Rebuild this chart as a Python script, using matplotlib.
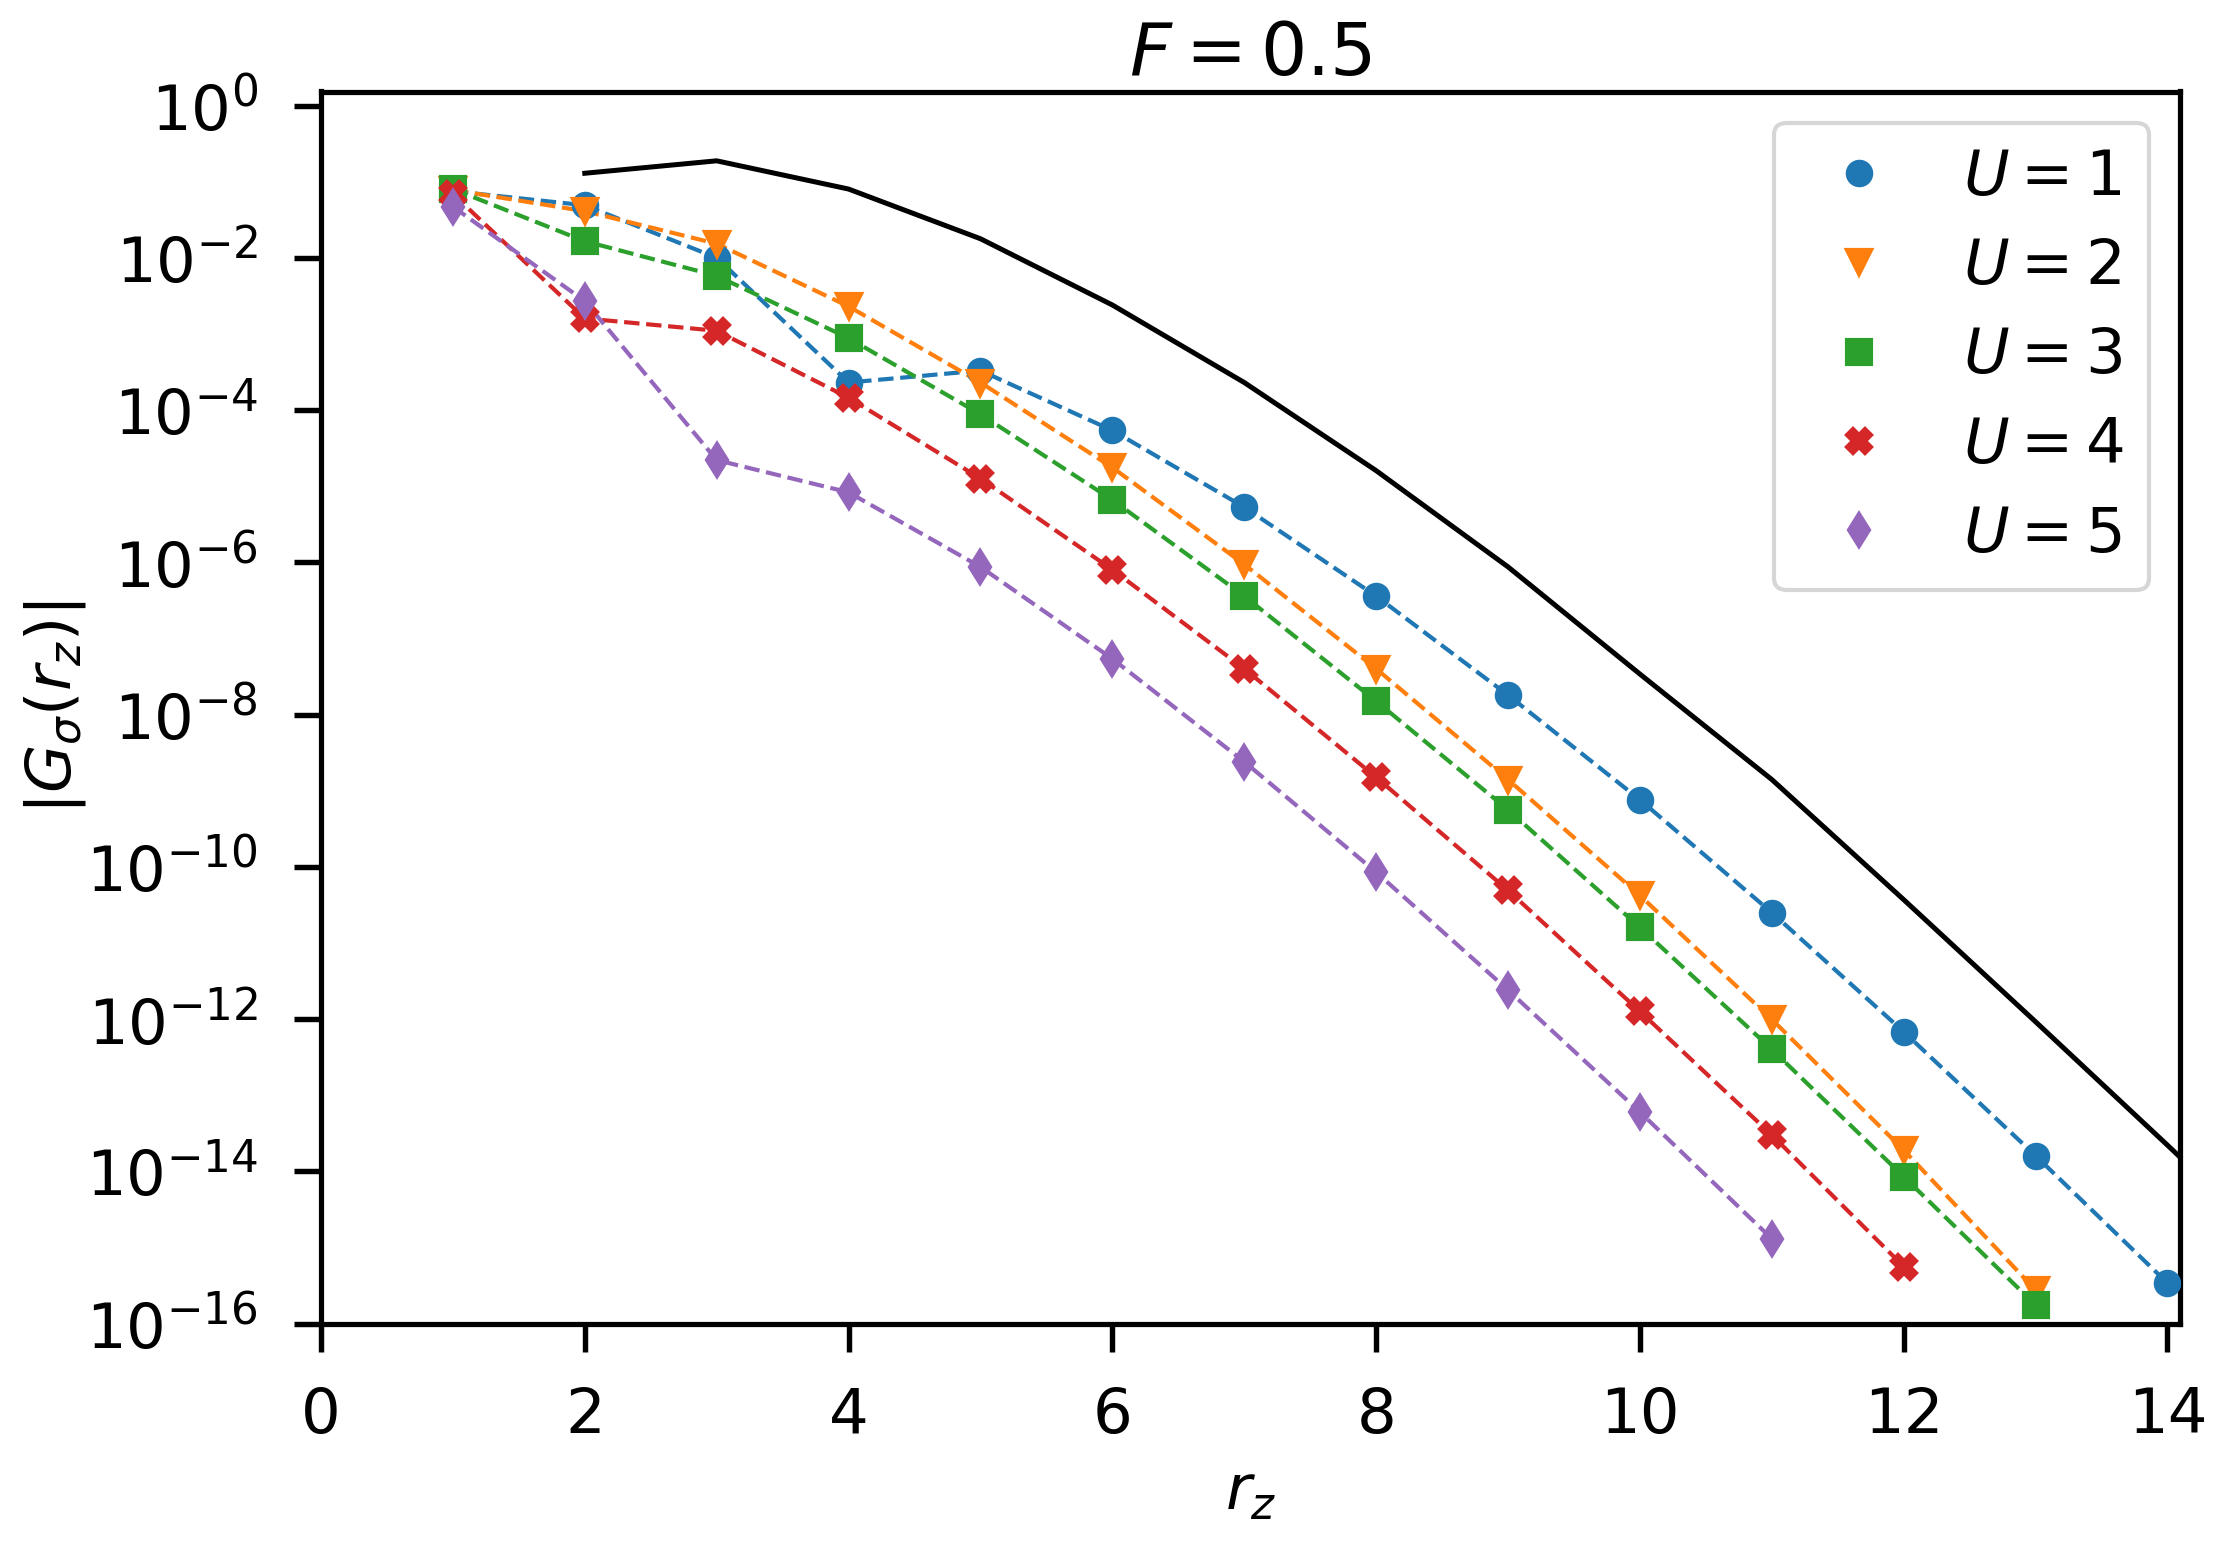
import matplotlib
matplotlib.use("Agg")
import matplotlib.pyplot as plt
from matplotlib.ticker import NullLocator

# ---- data ----
x_u1 = [1, 2, 3, 4, 5, 6, 7, 8, 9, 10, 11, 12, 13, 14]
g_u1 = [0.075, 0.049, 0.010, 2.3e-4, 3.3e-4, 5.4e-5, 5.3e-6, 3.6e-7, 1.8e-8,
        7.6e-10, 2.5e-11, 6.8e-13, 1.6e-14, 3.4e-16]

x_u2 = [1, 2, 3, 4, 5, 6, 7, 8, 9, 10, 11, 12, 13]
g_u2 = [0.078, 0.041, 0.0153, 2.3e-3, 2.3e-4, 1.76e-5, 9.4e-7, 4.0e-8, 1.4e-9,
        4.2e-11, 9.9e-13, 1.9e-14, 2.75e-16]

x_u3 = [1, 2, 3, 4, 5, 6, 7, 8, 9, 10, 11, 12, 13]
g_u3 = [0.080, 0.0165, 5.8e-3, 8.8e-4, 8.8e-5, 6.6e-6, 3.6e-7, 1.5e-8, 5.6e-10,
        1.6e-11, 4.0e-13, 8.5e-15, 1.75e-16]

x_u4 = [1, 2, 3, 4, 5, 6, 7, 8, 9, 10, 11, 12]
g_u4 = [0.069, 1.6e-3, 1.1e-3, 1.45e-4, 1.26e-5, 8.0e-7, 4.0e-8, 1.5e-9, 4.9e-11,
        1.26e-12, 3.0e-14, 5.6e-16]

x_u5 = [1, 2, 3, 4, 5, 6, 7, 8, 9, 10, 11]
g_u5 = [0.047, 2.7e-3, 2.2e-5, 8.3e-6, 8.7e-7, 5.4e-8, 2.4e-9, 8.5e-11, 2.4e-12,
        6e-14, 1.3e-15]

x_ref = [2, 3, 4, 5, 6, 7, 8, 9, 10, 11, 12, 13, 14, 15]
g_ref = [0.129, 0.188, 0.080, 0.0178, 2.4e-3, 2.3e-4, 1.6e-5, 8.7e-7, 3.4e-8,
         1.4e-9, 3.7e-11, 9.2e-13, 2.2e-14, 5e-16]

labels = [r"$U=1$", r"$U=2$", r"$U=3$", r"$U=4$", r"$U=5$"]
xticks = [0, 2, 4, 6, 8, 10, 12, 14]
yexps = [0, -2, -4, -6, -8, -10, -12, -14, -16]

series_x = [x_u1, x_u2, x_u3, x_u4, x_u5]
series_y = [g_u1, g_u2, g_u3, g_u4, g_u5]
markers = ["o", "v", "s", "X", "d"]
colors = ["#1f77b4", "#ff7f0e", "#2ca02c", "#d62728", "#9467bd"]

fig = plt.figure(figsize=(2227 / 300, 1543 / 300), dpi=300)
ax = fig.add_axes([321 / 2227, 1 - 1323.5 / 1543, (2180 - 321) / 2227, (1323.5 - 91.5) / 1543])

ax.plot(x_ref, g_ref, color="black", lw=1.2, zorder=2)
for xs, ys, m, c, lab in zip(series_x, series_y, markers, colors, labels):
    ax.plot(xs, ys, ls="--", lw=1.0, color=c, zorder=2)
    ax.plot(xs, ys, ls="none", marker=m, ms=5.6, color=c, label=lab, zorder=3)

ax.set_yscale("log")
ax.set_xlim(0, 14.095)
ax.set_ylim(1e-16, 1.53)
ax.set_xticks(xticks)
ax.set_yticks([10.0 ** e for e in yexps])
ax.yaxis.set_minor_locator(NullLocator())

for s in ax.spines.values():
    s.set_linewidth(1.25)
ax.tick_params(axis="both", which="major", labelsize=15, length=6.6, width=1.3, pad=8.5)

ax.set_xlabel(r"$r_z$", fontsize=15)
ax.set_ylabel(r"$|G_\sigma(r_z)|$", fontsize=15, labelpad=-0.5)
ax.set_title(r"$F=0.5$", fontsize=17.5, pad=4)

ax.legend(loc="upper right", fontsize=15, labelspacing=0.47, handletextpad=0.72,
          handlelength=1.9)

fig.savefig("out.png", dpi=300)
